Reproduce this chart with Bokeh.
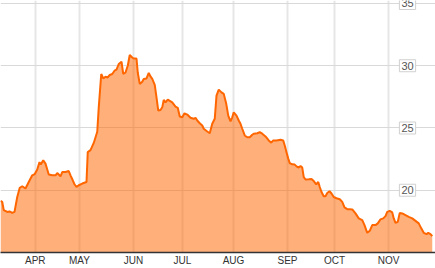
from bokeh.plotting import figure
from bokeh.models import ColumnDataSource, FixedTicker, Grid, Label
from bokeh.embed import file_html
from bokeh.resources import INLINE

# trading-day index (x) and closing price (y)
day = [0, 0.7, 1.3, 2.7, 3.6, 4.7, 5.6, 6.7, 7.7, 8.7, 10.0, 11.3, 12.7, 13.7, 14.7,
       15.6, 16.1, 17.1, 18.0, 18.7, 19.3, 20.7, 22.0, 22.7, 23.3, 24.0, 24.7, 26.0,
       27.3, 28.0, 28.9, 29.6, 30.4, 31.3, 32.7, 34.4, 34.9, 36.0, 37.3, 38.7, 39.3,
       40.3, 41.1, 42.0, 42.9, 43.7, 44.7, 45.6, 46.4, 47.3, 48.4, 49.1, 50.0, 50.9,
       51.7, 52.7, 53.3, 54.4, 54.9, 55.7, 56.7, 57.3, 58.4, 59.3, 60.0, 60.7, 61.7,
       62.4, 63.1, 64.0, 64.7, 65.3, 66.0, 66.9, 68.7, 70.0, 70.9, 71.7, 72.7, 73.6,
       74.7, 76.0, 77.3, 78.0, 78.7, 79.7, 80.7, 81.3, 82.7, 83.7, 84.7, 85.7, 86.4,
       87.3, 88.4, 89.3, 90.3, 91.1, 92.0, 92.7, 93.3, 94.4, 95.3, 96.0, 96.7, 97.7,
       98.7, 99.7, 100.7, 101.3, 102.7, 103.7, 104.7, 106.0, 107.3, 108.3, 109.1,
       110.4, 112.0, 113.1, 113.7, 114.4, 115.1, 115.7, 116.7, 117.7, 118.4, 119.3,
       120.0, 120.7, 121.3, 122.0, 123.3, 124.4, 125.3, 126.3, 127.1, 127.7, 128.4,
       129.3, 130.0, 130.7, 131.6, 132.4, 133.3, 134.4, 135.7, 136.7, 137.6, 138.7,
       139.7, 140.7, 142.0, 143.3, 144.7, 145.6, 146.7, 147.7, 148.7, 150.0, 150.9,
       152.0, 153.1, 154.0, 154.7, 155.7, 156.7, 157.3, 158.0, 158.9, 159.7, 160.7,
       162.0, 163.3, 164.7, 166.0, 167.3, 168.3, 169.3, 170.4, 171.1, 172.0, 172.7]
price = [19.14, 19.06, 18.4, 18.26, 18.3, 18.18, 18.26, 19.46, 20.2, 20.32, 20.14, 20.66,
         21.2, 21.3, 21.66, 22.26, 22.06, 22.4, 22.14, 21.66, 21.26, 21.2, 21.2, 21.38,
         21.26, 21.12, 21.46, 21.46, 21.54, 21.2, 20.8, 20.48, 20.26, 20.4, 20.54, 20.66,
         23.06, 23.22, 23.8, 24.7, 26.66, 29.34, 28.98, 29.12, 29.06, 29.26, 29.34, 29.6,
         29.68, 30.14, 30.32, 29.34, 29.46, 30.0, 30.86, 30.66, 30.58, 30.58, 29.46,
         28.54, 28.72, 28.94, 28.98, 29.42, 29.14, 28.94, 28.46, 27.46, 26.4, 26.44,
         26.66, 27.26, 27.06, 27.28, 27.06, 26.72, 26.62, 25.92, 25.86, 26.18, 26.08,
         25.82, 25.74, 25.82, 25.6, 25.38, 25.2, 24.94, 24.72, 24.58, 25.34, 25.74, 27.6,
         28.08, 27.86, 27.74, 26.94, 26.0, 25.54, 25.86, 26.26, 26.0, 25.6, 25.34, 24.94,
         24.4, 24.26, 24.26, 24.46, 24.54, 24.58, 24.66, 24.54, 24.32, 24.0, 23.82, 24.0,
         24.0, 24.06, 24.0, 23.6, 23.06, 22.54, 22.18, 22.08, 22.06, 21.92, 21.82, 21.94,
         21.82, 21.06, 20.86, 20.88, 20.9, 20.74, 20.48, 20.66, 20.26, 19.86, 19.52,
         19.52, 19.78, 19.92, 19.74, 19.46, 19.36, 19.28, 19.06, 18.62, 18.48, 18.48,
         18.46, 18.14, 17.74, 17.6, 17.2, 16.58, 16.74, 17.2, 17.2, 17.34, 17.66, 17.74,
         17.92, 18.26, 18.34, 18.22, 17.74, 17.38, 17.46, 18.18, 18.14, 18.0, 17.86,
         17.74, 17.54, 17.34, 16.94, 16.58, 16.48, 16.58, 16.48, 16.32]

month_ticks = [13.9, 31.6, 53.2, 72.8, 93.2, 114.8, 133.6, 155.2]
month_labels = ["APR", "MAY", "JUN", "JUL", "AUG", "SEP", "OCT", "NOV"]
price_ticks = [15, 20, 25, 30, 35]
price_labels = ["20", "25", "30", "35"]
baseline = 15

src = ColumnDataSource(dict(day=day, price=price))

p = figure(width=435, height=268, output_backend="svg", toolbar_location=None,
           x_range=(0, 174), y_range=(15, 35.24), y_axis_location=None,
           min_border=0, min_border_left=0, min_border_right=0,
           min_border_top=0, min_border_bottom=0)
p.outline_line_color = None
p.background_fill_color = "white"
p.border_fill_color = "white"

# x axis
p.xaxis.ticker = FixedTicker(ticks=month_ticks)
p.xaxis.major_label_overrides = {t: l for t, l in zip(month_ticks, month_labels)}
p.xaxis.major_tick_in = 0
p.xaxis.major_tick_out = 0
p.xaxis.minor_tick_in = 0
p.xaxis.minor_tick_out = 0
p.xaxis.major_label_standoff = 2
p.xaxis.axis_line_color = "#333333"
p.xaxis.axis_line_width = 1.5
p.xaxis.major_label_text_font = "Liberation Sans"
p.xaxis.major_label_text_font_size = "10px"
p.xaxis.major_label_text_color = "#333333"

p.xgrid.ticker = FixedTicker(ticks=month_ticks)
p.xgrid.grid_line_color = "#e6e6e6"
p.xgrid.grid_line_width = 2

for g in p.ygrid:
    g.visible = False
ygrid = Grid(dimension=1, ticker=FixedTicker(ticks=price_ticks),
             grid_line_color="#d9d9d9", grid_line_width=1)
p.add_layout(ygrid, "center")

p.varea(x="day", y1=baseline, y2="price", source=src,
        fill_color="#ff6600", fill_alpha=0.52)
p.line(x="day", y="price", source=src, line_color="#ff6600", line_width=2)

for yv, txt in zip(price_ticks[1:], price_labels):
    p.add_layout(Label(x=407, y=yv, text=txt, x_units="screen",
                       text_align="center", text_baseline="middle",
                       text_font="Liberation Sans", text_font_size="11px",
                       text_color="#555555",
                       background_fill_color="white",
                       border_line_color="#d0d0d0", border_line_width=1,
                       padding=2))

open("out.html", "w").write(file_html(p, INLINE))
